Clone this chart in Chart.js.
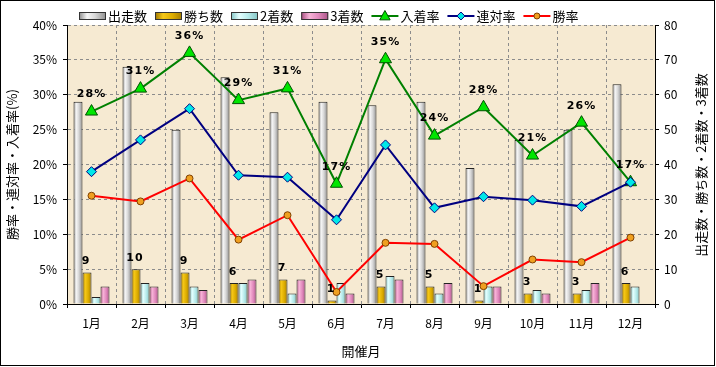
<!DOCTYPE html>
<html lang="ja">
<head>
<meta charset="utf-8">
<title>開催月別成績</title>
<script src="https://cdn.jsdelivr.net/npm/chart.js@4.4.1/dist/chart.umd.min.js"></script>
<style>
    html, body { margin: 0; padding: 0; background: #fff; }
    #wrap { width: 716px; height: 367px; position: relative; }
</style>
</head>
<body>
<div id="wrap"><canvas id="chart"></canvas></div>
<script>
// data
const months = ['1月', '2月', '3月', '4月', '5月', '6月', '7月', '8月', '9月', '10月', '11月', '12月'];
const runs = [58, 68, 50, 65, 55, 58, 57, 58, 39, 47, 50, 63];
const wins = [9, 10, 9, 6, 7, 1, 5, 5, 1, 3, 3, 6];
const seconds = [2, 6, 5, 6, 3, 6, 8, 3, 5, 4, 4, 5];
const thirds = [5, 5, 4, 7, 7, 3, 7, 6, 5, 3, 6, 0];
const placeRate = [27.59, 30.88, 36.0, 29.23, 30.91, 17.24, 35.09, 24.14, 28.21, 21.28, 26.0, 17.46];
const quinellaRate = [18.97, 23.53, 28.0, 18.46, 18.18, 12.07, 22.81, 13.79, 15.38, 14.89, 14.0, 17.46];
const winRate = [15.52, 14.71, 18.0, 9.23, 12.73, 1.72, 8.77, 8.62, 2.56, 6.38, 6.0, 9.52];

const FONT = '"Noto Sans CJK JP", "Noto Sans", sans-serif';
Chart.defaults.font.family = FONT;
Chart.defaults.color = '#000';

// gradient stops for the cylinder-like bars
const barShades = {
    '出走数': [[0, '#8a8a8a'], [0.3, '#f6f6f6'], [0.6, '#d6d6d6'], [1, '#8e8e8e']],
    '勝ち数': [[0, '#9c7400'], [0.3, '#f6c818'], [0.65, '#dcac00'], [1, '#a47c00']],
    '2着数': [[0, '#80c4c4'], [0.3, '#e4ffff'], [0.65, '#b6eaea'], [1, '#84c4c4']],
    '3着数': [[0, '#a84c80'], [0.3, '#f8b4d8'], [0.65, '#e088bc'], [1, '#ac5488']]
};

function shade(ctx, x0, w, stops) {
    const g = ctx.createLinearGradient(x0, 0, x0 + w, 0);
    stops.forEach(s => g.addColorStop(s[0], s[1]));
    return g;
}

function drawMarker(ctx, style, x, y, r, fill, stroke) {
    ctx.save();
    ctx.fillStyle = fill;
    ctx.strokeStyle = stroke;
    ctx.lineWidth = 1;
    ctx.beginPath();
    if (style === 'triangle') {
        ctx.moveTo(x, y - r);
        ctx.lineTo(x + r * 0.95, y + r * 0.7);
        ctx.lineTo(x - r * 0.95, y + r * 0.7);
        ctx.closePath();
    } else if (style === 'rectRot') {
        ctx.moveTo(x, y - r);
        ctx.lineTo(x + r, y);
        ctx.lineTo(x, y + r);
        ctx.lineTo(x - r, y);
        ctx.closePath();
    } else {
        ctx.arc(x, y, r, 0, Math.PI * 2);
    }
    ctx.fill();
    ctx.stroke();
    ctx.restore();
}

const chartDecor = {
    id: 'chartDecor',
    beforeDraw(chart) {
        const {ctx, chartArea: a} = chart;
        ctx.save();
        ctx.fillStyle = '#fff';
        ctx.fillRect(0, 0, chart.width, chart.height);
        ctx.fillStyle = '#f6ead2';
        ctx.fillRect(a.left, a.top, a.right - a.left, a.bottom - a.top);
        ctx.restore();
    },
    beforeDatasetsDraw(chart) {
        const ctx = chart.ctx;
        chart.data.datasets.forEach((ds, i) => {
            if (ds.type !== 'bar') return;
            chart.getDatasetMeta(i).data.forEach(el => {
                const x0 = el.x - el.width / 2;
                el.options = Object.assign({}, el.options, {
                    backgroundColor: shade(ctx, x0, el.width, barShades[ds.label])
                });
            });
        });
    },
    afterDatasetsDraw(chart) {
        const ctx = chart.ctx;
        ctx.save();
        ctx.fillStyle = '#000';
        ctx.textAlign = 'center';
        ctx.textBaseline = 'middle';
        ctx.font = 'bold 11px "DejaVu Sans", sans-serif';
        ctx.letterSpacing = '1px';
        // 入着率 labels
        const placeMeta = chart.getDatasetMeta(4);
        placeMeta.data.forEach((pt, i) => {
            ctx.fillText(Math.round(placeRate[i]) + '%', pt.x, pt.y - 17);
        });
        // 勝ち数 labels
        const winMeta = chart.getDatasetMeta(1);
        winMeta.data.forEach((bar, i) => {
            ctx.fillText(String(wins[i]), bar.x - 1, bar.y - 11);
        });
        ctx.restore();
    },
    afterDraw(chart) {
        const ctx = chart.ctx;
        ctx.save();
        // legend
        ctx.font = '13px ' + FONT;
        ctx.textBaseline = 'middle';
        let x = 79;
        const y = 16;
        chart.data.datasets.forEach(ds => {
            if (ds.type === 'bar') {
                ctx.fillStyle = shade(ctx, x, 27, barShades[ds.label]);
                ctx.fillRect(x, 12, 27, 8);
                ctx.strokeStyle = '#333';
                ctx.lineWidth = 1;
                ctx.strokeRect(x + 0.5, 12.5, 26, 7);
            } else {
                ctx.strokeStyle = ds.borderColor;
                ctx.lineWidth = 2;
                ctx.beginPath();
                ctx.moveTo(x, y);
                ctx.lineTo(x + 27, y);
                ctx.stroke();
                const r = ds.pointStyle === 'triangle' ? 5.5 : ds.pointStyle === 'rectRot' ? 4 : 3;
                drawMarker(ctx, ds.pointStyle, x + 13.5, y, r, ds.pointBackgroundColor, ds.pointBorderColor);
            }
            ctx.fillStyle = '#000';
            ctx.textAlign = 'left';
            ctx.fillText(ds.label, x + 29, y);
            x += 29 + ctx.measureText(ds.label).width + 8;
        });
        // right axis title, reads bottom to top like the left one
        ctx.translate(701, 165);
        ctx.rotate(-Math.PI / 2);
        ctx.textAlign = 'center';
        ctx.fillText('出走数・勝ち数・2着数・3着数', 0, 0);
        ctx.restore();
        // frame
        ctx.save();
        ctx.strokeStyle = '#000';
        ctx.lineWidth = 1;
        ctx.strokeRect(0.5, 0.5, 714, 365);
        ctx.restore();
    }
};

function barSet(label, data) {
    return {
        type: 'bar',
        label: label,
        data: data,
        yAxisID: 'y1',
        backgroundColor: '#ccc',
        borderColor: '#222',
        borderWidth: 1,
        categoryPercentage: 0.735,
        barPercentage: 1.0,
        order: 3
    };
}

function lineSet(label, data, color, style, radius, fill, edge, order) {
    return {
        type: 'line',
        label: label,
        data: data,
        yAxisID: 'y',
        borderColor: color,
        borderWidth: 2,
        pointStyle: style,
        pointRadius: radius,
        pointBackgroundColor: fill,
        pointBorderColor: edge,
        pointBorderWidth: 1,
        tension: 0,
        order: order
    };
}

new Chart(document.getElementById('chart'), {
    data: {
        labels: months,
        datasets: [
            barSet('出走数', runs),
            barSet('勝ち数', wins),
            barSet('2着数', seconds),
            barSet('3着数', thirds),
            lineSet('入着率', placeRate, '#008000', 'triangle', 7, '#00e600', '#005000', 2),
            lineSet('連対率', quinellaRate, '#000080', 'rectRot', 5, '#00e8e8', '#000080', 1),
            lineSet('勝率', winRate, '#ff0000', 'circle', 3.5, '#f0a020', '#804000', 0)
        ]
    },
    options: {
        responsive: true,
        maintainAspectRatio: false,
        animation: false,
        layout: { padding: { top: 25, left: 0, right: 0, bottom: 0 } },
        plugins: {
            legend: { display: false },
            tooltip: { enabled: false }
        },
        scales: {
            x: {
                offset: true,
                grid: { color: '#8c8c8c', offset: true, tickLength: 4, tickColor: '#000', tickBorderDash: [] },
                border: { color: '#000', width: 1, dash: [3, 3] },
                ticks: { font: { size: 12 }, padding: 8, maxRotation: 0 },
                title: { display: true, text: '開催月', font: { size: 13 }, padding: { top: 0, bottom: 8 } },
                afterFit: s => { s.height = 63; }
            },
            y: {
                position: 'left',
                min: 0,
                max: 40,
                ticks: { stepSize: 5, font: { size: 12 }, padding: 6, callback: v => v + '%' },
                grid: { color: '#8c8c8c', tickLength: 4, tickColor: '#000', tickBorderDash: [] },
                border: { color: '#000', width: 1, dash: [3, 3] },
                title: { display: true, text: '勝率・連対率・入着率(%)', font: { size: 13 }, padding: { top: 4, bottom: 0 } },
                afterFit: s => { s.width = 67; }
            },
            y1: {
                position: 'right',
                min: 0,
                max: 80,
                ticks: { stepSize: 10, font: { size: 12 }, padding: 5 },
                grid: { drawOnChartArea: false, tickLength: 4, tickColor: '#000' },
                border: { color: '#000', width: 1 },
                afterFit: s => { s.width = 61; }
            }
        }
    },
    plugins: [chartDecor]
});
</script>
</body>
</html>
